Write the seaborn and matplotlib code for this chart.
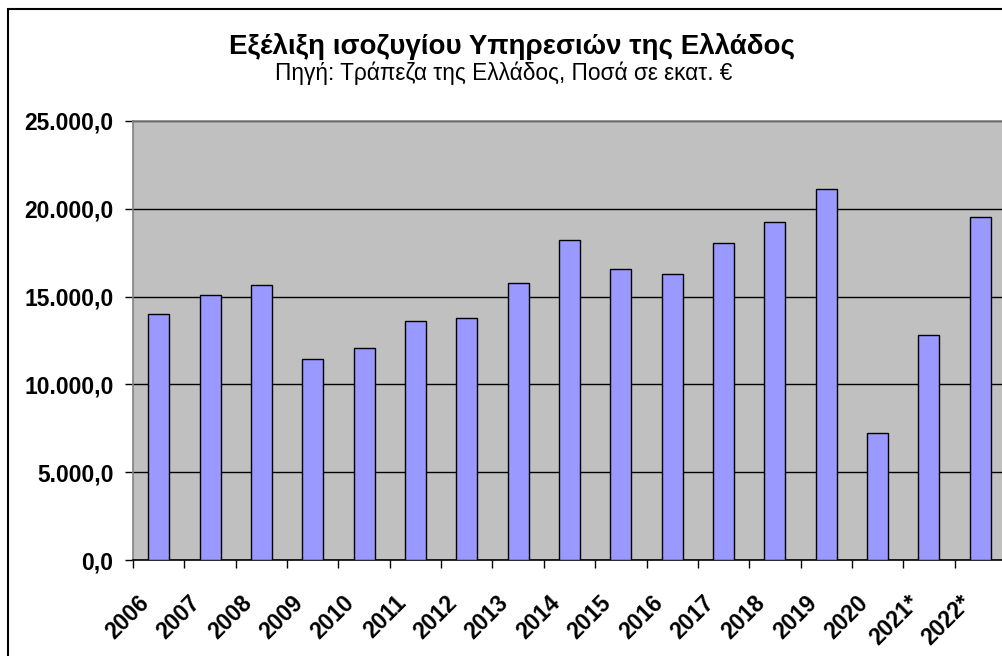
import matplotlib
matplotlib.use("Agg")
import matplotlib.pyplot as plt
import seaborn as sns
import pandas as pd
from matplotlib.patches import Rectangle
from matplotlib.ticker import FuncFormatter, FixedLocator
from matplotlib.transforms import ScaledTranslation

# Services balance of Greece, million EUR
years = ["2006", "2007", "2008", "2009", "2010", "2011", "2012", "2013", "2014",
         "2015", "2016", "2017", "2018", "2019", "2020", "2021*", "2022*"]
balance = [14010, 15110, 15680, 11470, 12090, 13610, 13780, 15770, 18220,
           16570, 16290, 18070, 19260, 21100, 7260, 12820, 19510]

title = "Εξέλιξη ισοζυγίου Υπηρεσιών της Ελλάδος"
subtitle = "Πηγή: Τράπεζα της Ελλάδος, Ποσά σε εκατ. €"

df = pd.DataFrame({"year": years, "value": balance})

sns.set_style("white")
plt.rcParams["font.family"] = ["Liberation Sans", "DejaVu Sans"]
plt.rcParams["text.color"] = "black"
plt.rcParams["xtick.color"] = "black"
plt.rcParams["ytick.color"] = "black"

fig = plt.figure(figsize=(10.02, 6.56), dpi=100)
fig.patch.set_facecolor("white")

# outer chart frame (runs off the right/bottom edge like the source)
fig.patches.append(Rectangle((8 / 1002, -0.05), 1.2, 1 - 9 / 656 + 0.05,
                             transform=fig.transFigure, fill=False,
                             edgecolor="black", linewidth=1.5))

ax = fig.add_axes([133 / 1002, 1 - 560.3 / 656, 873 / 1002, (560.3 - 120.7) / 656])
ax.set_facecolor("#C0C0C0")

sns.barplot(data=df, x="year", y="value", color="#9999FF", saturation=1,
            width=0.41, edgecolor="black", linewidth=1.0, ax=ax, zorder=3)

ax.set_xlim(-0.5, len(years) - 0.5)
ax.set_ylim(0, 25000)
ax.set_yticks(range(0, 25001, 5000))
ax.yaxis.set_major_formatter(FuncFormatter(
    lambda v, p: f"{v:,.1f}".replace(",", "X").replace(".", ",").replace("X", ".")))
ax.grid(axis="y", color="black", linewidth=1.0, zorder=1)
ax.set_axisbelow(True)

# tick marks between categories, labels at the centres
ax.xaxis.set_minor_locator(FixedLocator([i - 0.5 for i in range(len(years) + 1)]))
ax.tick_params(axis="x", which="minor", bottom=True, length=6, width=1,
               color="black", direction="out")
ax.tick_params(axis="x", which="major", bottom=True, length=0, pad=28)
ax.tick_params(axis="y", left=True, length=6, width=1, color="black",
               direction="out", pad=8)

ax.set_xticks(range(len(years)))
ax.set_xticklabels(years, rotation=45, ha="right", va="center",
                   rotation_mode="anchor", fontsize=16.5, fontweight="bold",
                   color="black")
for lbl in ax.get_xticklabels():
    lbl.set_transform(lbl.get_transform() + ScaledTranslation(-0.13, 0, fig.dpi_scale_trans))
for lbl in ax.get_yticklabels():
    lbl.set_fontsize(16.5)
    lbl.set_fontweight("bold")
    lbl.set_color("black")

ax.set_xlabel("")
ax.set_ylabel("")

for side in ["left", "top", "right"]:
    ax.spines[side].set_color("#808080")
    ax.spines[side].set_linewidth(1.2)
ax.spines["bottom"].set_color("black")
ax.spines["bottom"].set_linewidth(1.2)

fig.text(0.511, 1 - 47 / 656, title, ha="center", va="center",
         fontsize=20, fontweight="bold", color="black")
fig.text(0.503, 1 - 73 / 656, subtitle, ha="center", va="center",
         fontsize=16.3, color="black")

fig.savefig("out.png", dpi=100)
